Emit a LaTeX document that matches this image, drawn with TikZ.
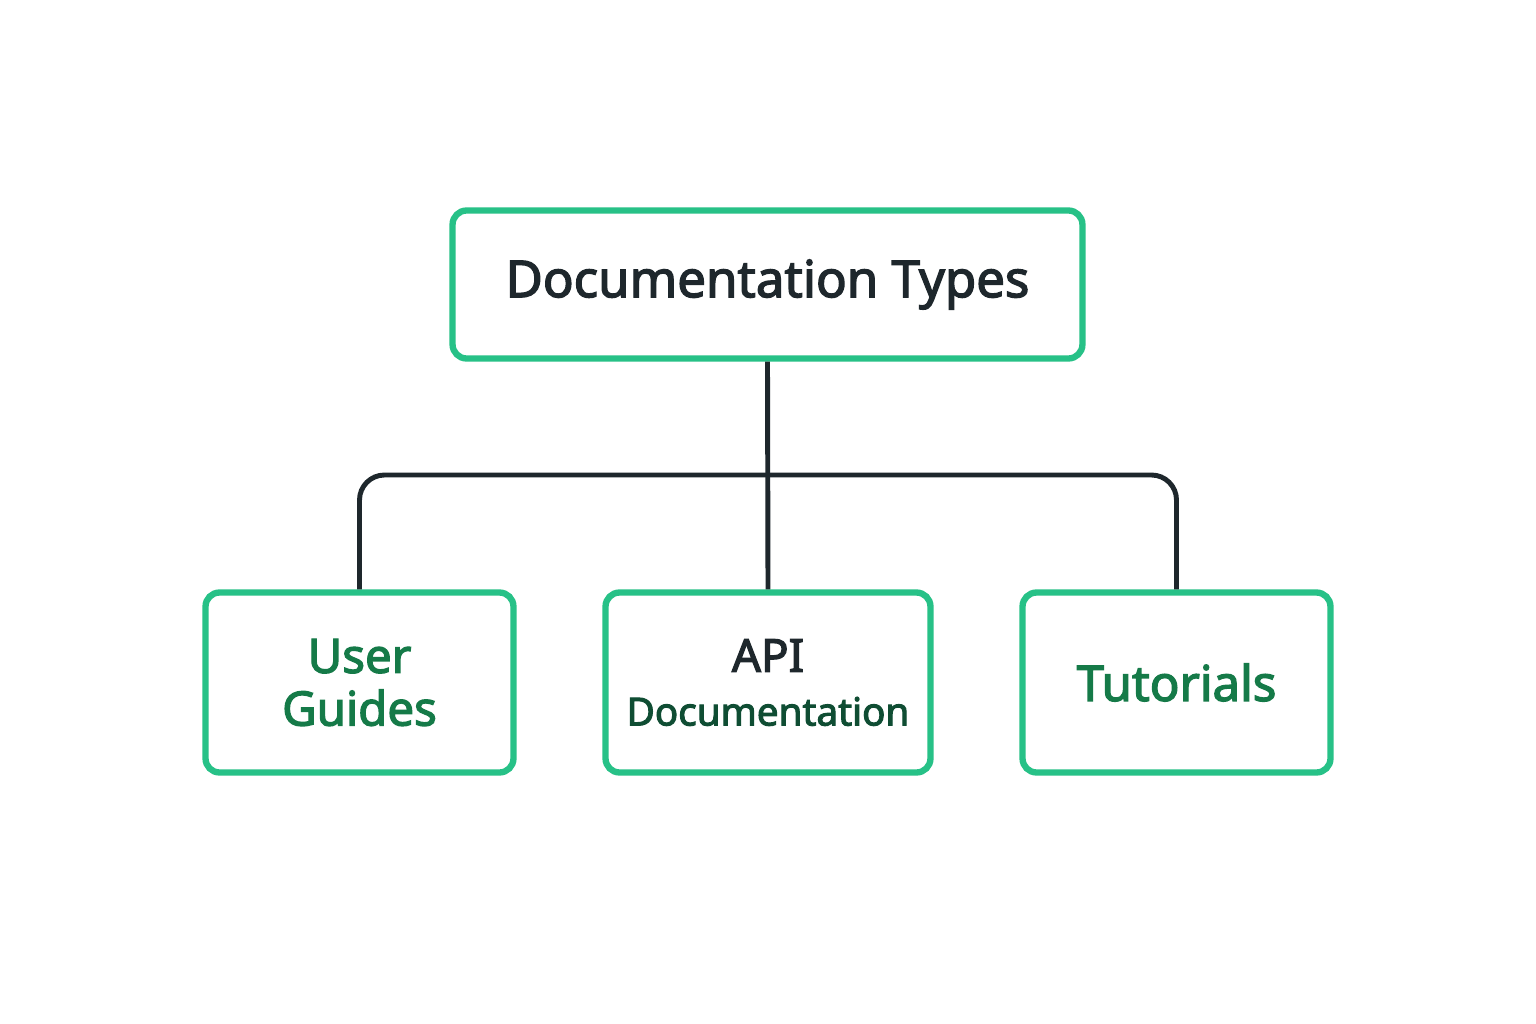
\documentclass[tikz,border=0pt]{standalone}
\usepackage{fontspec}
\setmainfont{Noto Sans}
\newfontfamily\labelfont{Noto Sans}[FakeBold=2.6]
\usetikzlibrary{positioning}

\definecolor{boxgreen}{HTML}{27C187}
\definecolor{textgreen}{HTML}{157A48}
\definecolor{deepgreen}{HTML}{0F4D33}
\definecolor{inkdark}{HTML}{1E272C}

\tikzset{
  docbox/.style = {draw=boxgreen, line width=3.6pt, rounded corners=0.28cm,
                   fill=white, align=center, inner sep=0pt},
  link/.style   = {draw=inkdark, line width=2.8pt}
}

\begin{document}
\begin{tikzpicture}[x=0.02cm, y=-0.02cm]

            \useasboundingbox[fill=white] (0,0) rectangle (1536,1024);

            \path   (767.5,284.5) node (types) [docbox, minimum width=12.6cm, minimum height=2.96cm,
                          text=inkdark, font=\labelfont\fontsize{29}{34}\selectfont]
                          {Documentation Types}
                    (359.5,682.5) node (guides) [docbox, minimum width=6.16cm, minimum height=3.6cm,
                          text=textgreen, font=\labelfont\fontsize{27}{30}\selectfont]
                          {User\\Guides}
                    (768,682.5)   node (api) [docbox, minimum width=6.5cm, minimum height=3.6cm,
                          font=\labelfont\fontsize{22}{30.5}\selectfont]
                          {{\fontsize{26}{30}\selectfont\color{inkdark}API}\\\color{deepgreen}Documentation}
                    (1176.5,682.5) node (tutor) [docbox, minimum width=6.16cm, minimum height=3.6cm,
                          text=textgreen, font=\labelfont\fontsize{28}{32}\selectfont]
                          {Tutorials};

            \coordinate (bus) at (767.5,475);

            \draw[link] (types.south) -- (api.north);
            \draw[link, rounded corners=0.5cm] (guides.north) |- (bus) -| (tutor.north);
        \end{tikzpicture}
\end{document}
